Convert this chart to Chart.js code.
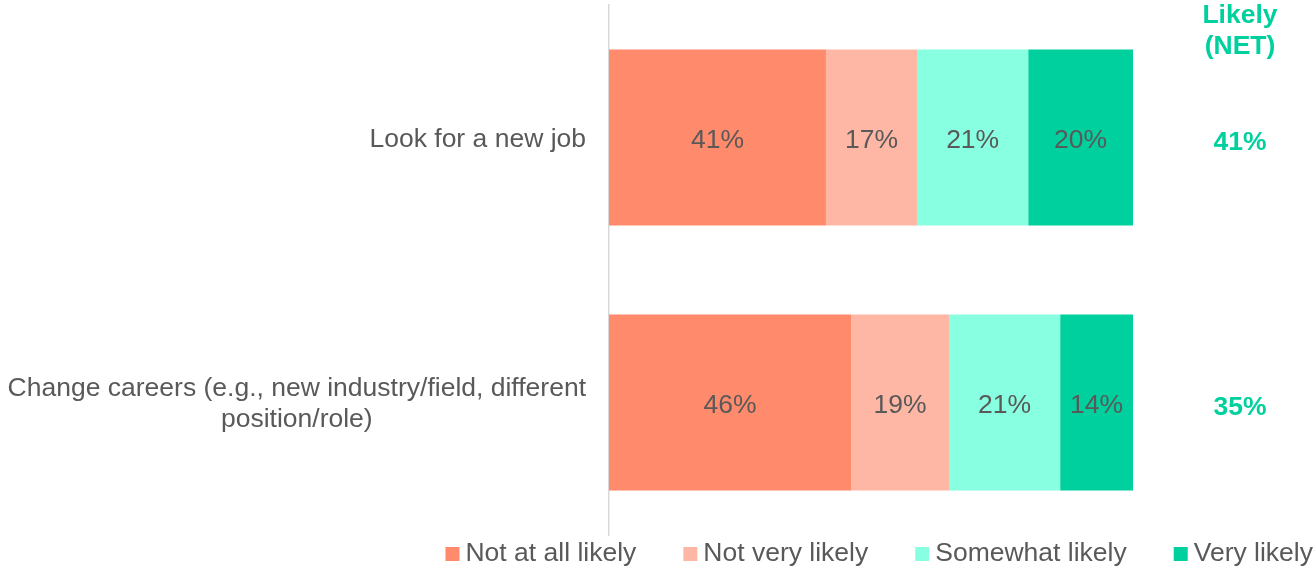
<!DOCTYPE html>
<html>
<head>
<meta charset="utf-8">
<script src="https://cdn.jsdelivr.net/npm/chart.js@4/dist/chart.umd.min.js"></script>
<style>
    html, body { margin: 0; padding: 0; background: #fff; }
    #wrap { width: 1315px; height: 568px; position: relative; }
</style>
</head>
<body>
<div id="wrap"><canvas id="chart"></canvas></div>
<script>
const categories = [
    'Look for a new job',
    ['Change careers (e.g., new industry/field, different', 'position/role)']
];
const seriesNames = ['Not at all likely', 'Not very likely', 'Somewhat likely', 'Very likely'];
const notAtAll = [41.4, 46.2];
const notVery = [17.4, 18.7];
const somewhat = [21.2, 21.2];
const very = [20.0, 13.9];
const likelyNet = [41, 35];
const netHeader = ['Likely', '(NET)'];

const COLORS = ['#ff8a6c', '#ffb7a5', '#88ffe0', '#00d09e'];
const TEXT = '#595959';
const GREEN = '#00d09e';
const FAMILY = '"Liberation Sans", Arial, sans-serif';
const SIZE = 26.5;

const font = (bold) => `${bold ? 'bold ' : ''}${SIZE}px ${FAMILY}`;

// labels on the left, values in the bars, NET column and legend
const overlay = {
    id: 'overlay',
    afterDatasetsDraw(chart) {
        const { ctx, chartArea, scales: { y } } = chart;
        ctx.save();
        ctx.textBaseline = 'middle';

        // category labels: block right-aligned, lines centred in the block
        ctx.font = font(false);
        ctx.fillStyle = TEXT;
        ctx.textAlign = 'center';
        categories.forEach((c, i) => {
            const lines = Array.isArray(c) ? c : [c];
            const w = Math.max(...lines.map(l => ctx.measureText(l).width));
            const cx = chartArea.left - 23 - w / 2;
            const cy = y.getPixelForValue(i) + 2;
            const lh = 31;
            lines.forEach((l, j) => ctx.fillText(l, cx, cy + (j - (lines.length - 1) / 2) * lh));
        });

        // values inside bars
        chart.data.datasets.forEach((ds, di) => {
            chart.getDatasetMeta(di).data.forEach((bar, i) => {
                const { x, base } = bar.getProps(['x', 'base'], true);
                ctx.fillText(`${Math.round(ds.data[i])}%`, (x + base) / 2, bar.y + 3);
            });
        });

        // Likely (NET) column
        const netX = chartArea.right + 107;
        ctx.font = font(true);
        ctx.fillStyle = GREEN;
        netHeader.forEach((t, j) => ctx.fillText(t, netX, 16 + j * 31));
        likelyNet.forEach((v, i) => ctx.fillText(`${v}%`, netX, y.getPixelForValue(i) + 5));

        // legend, right aligned at the bottom
        ctx.font = font(false);
        ctx.textAlign = 'left';
        const box = 14, gap = 6, space = 47, ly = 554;
        const widths = seriesNames.map(n => box + gap + ctx.measureText(n).width);
        let lx = chart.width - 2 - widths.reduce((a, b) => a + b, 0) - space * (seriesNames.length - 1);
        seriesNames.forEach((n, i) => {
            ctx.fillStyle = COLORS[i];
            ctx.fillRect(lx, ly - box / 2, box, box);
            ctx.fillStyle = TEXT;
            ctx.fillText(n, lx + box + gap, ly);
            lx += widths[i] + space;
        });
        ctx.restore();
    }
};

const mkSet = (label, data, i) => ({
    label, data,
    backgroundColor: COLORS[i],
    borderWidth: 0,
    categoryPercentage: 1,
    barPercentage: 0.664
});

new Chart(document.getElementById('chart'), {
    type: 'bar',
    data: {
        labels: categories,
        datasets: [
            mkSet(seriesNames[0], notAtAll, 0),
            mkSet(seriesNames[1], notVery, 1),
            mkSet(seriesNames[2], somewhat, 2),
            mkSet(seriesNames[3], very, 3)
        ]
    },
    options: {
        indexAxis: 'y',
        responsive: true,
        maintainAspectRatio: false,
        animation: false,
        layout: { padding: { top: 5, bottom: 33, right: 182, left: 0 } },
        plugins: { legend: { display: false }, tooltip: { enabled: false } },
        scales: {
            x: { stacked: true, min: 0, max: 100, display: false },
            y: {
                stacked: true,
                ticks: { display: false },
                grid: { display: false, drawTicks: false },
                border: { display: true, color: '#d9d9d9', width: 1.5 },
                afterFit: (axis) => { axis.width = 609; }
            }
        }
    },
    plugins: [overlay]
});
</script>
</body>
</html>
